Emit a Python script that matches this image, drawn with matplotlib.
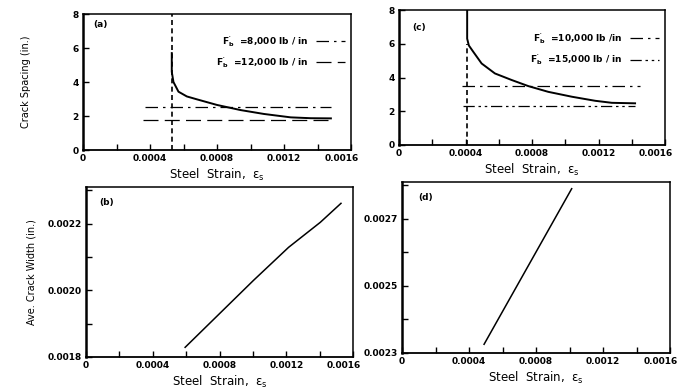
import numpy as np
import matplotlib
matplotlib.use('Agg')
from matplotlib import pyplot as plt
from matplotlib import transforms
from matplotlib.ticker import MultipleLocator, FixedLocator

plt.rcParams['font.family'] = ['DejaVu Sans']
plt.rcParams['font.weight'] = 'bold'
plt.rcParams['mathtext.default'] = 'regular'

# (a) crack spacing vs steel strain, first case
a_strain = [0.00053, 0.00053, 0.00054, 0.00057, 0.00062, 0.00068, 0.0008,
            0.00094, 0.00108, 0.00124, 0.00136, 0.00148]
a_spacing = [5.7, 4.6, 4.0, 3.43, 3.15, 2.98, 2.65, 2.35, 2.12, 1.92, 1.87, 1.86]
a_crack_strain = 0.00053
a_bond_labels = ["$F_b'$  =8,000 lb / in", "$F_b'$  =12,000 lb / in"]
a_bond_spacing = [2.51, 1.76]
a_bond_xmin = [0.00037, 0.00036]
a_bond_xmax = [0.00148, 0.00148]

# (c) crack spacing vs steel strain, second case
c_strain = [0.00041, 0.00041, 0.00042, 0.000447, 0.000497, 0.000577, 0.000678,
            0.000778, 0.000898, 0.00104, 0.00118, 0.00128, 0.00142]
c_spacing = [8.0, 6.3, 5.9, 5.52, 4.83, 4.24, 3.85, 3.49, 3.15, 2.86, 2.62, 2.5, 2.47]
c_crack_strain = 0.00041
c_crack_top = 6.0
c_bond_labels = ["$F_b'$  =10,000 lb /in", "$F_b'$  =15,000 lb / in"]
c_bond_spacing = [3.51, 2.31]
c_bond_xmin = [0.000377, 0.000387]
c_bond_xmax = [0.00145, 0.00142]

# (b) and (d) average crack width
b_strain = [0.000594, 0.001004, 0.001214, 0.001404, 0.001528]
b_width = [0.001829, 0.00203, 0.002129, 0.002204, 0.002261]
d_strain = [0.00049, 0.001013]
d_width = [0.002326, 0.00279]

x_ticks = [0, 0.0004, 0.0008, 0.0012, 0.0016]
x_ticklabels = ['0', '0.0004', '0.0008', '0.0012', '0.0016']
sp_ticks = [0, 2, 4, 6, 8]
b_ticks = [0.0018, 0.0020, 0.0022]
d_ticks = [0.0023, 0.0025, 0.0027]

W, H = 681, 390
fig = plt.figure(figsize=(W / 100, H / 100), dpi=100)

def box(l, t, r, b):
	return fig.add_axes([l / W, 1 - b / H, (r - l) / W, (b - t) / H])

ax_a = box(83, 14, 351, 150)
ax_c = box(399, 10, 665, 145)
ax_b = box(86, 187, 353, 357)
ax_d = box(402, 182, 670, 353)

# last x label sits a little left of its tick, like the scan
shift = transforms.ScaledTranslation(-9 / 100, 0, fig.dpi_scale_trans)

for ax in [ax_a, ax_b, ax_c, ax_d]:
	ax.set_xlim(0, 0.0016)
	ax.xaxis.set_major_locator(FixedLocator(x_ticks))
	ax.set_xticklabels(x_ticklabels)
	ax.xaxis.set_minor_locator(MultipleLocator(0.0002))
	ax.tick_params(which='both', direction='in', labelsize=6.5, length=4, width=1, pad=3)
	ax.get_xticklabels()[-1].set_transform(ax.get_xticklabels()[-1].get_transform() + shift)
	for s in ax.spines.values():
		s.set_linewidth(1.1)
	ax.spines['left'].set_linewidth(1.8)
	ax.spines['bottom'].set_linewidth(1.3)
	ax.set_xlabel(r'Steel  Strain,  $\epsilon_s$', fontsize=8.5, labelpad=3)

a_styles = [(0, (10, 4, 2, 4)), (0, (12, 5))]
c_styles = [(0, (10, 4, 2, 4)), (0, (9, 3, 2, 3, 2, 3))]

# panel (a)
ax_a.set_ylim(0, 8)
ax_a.set_yticks(sp_ticks)
ax_a.vlines(a_crack_strain, 0, 8, colors='k', linestyles=(0, (3, 2)), lw=1.2)
ax_a.plot(a_strain, a_spacing, color='k', lw=1.4)
for i in range(2):
	ax_a.plot([a_bond_xmin[i], a_bond_xmax[i]], [a_bond_spacing[i]] * 2, color='k',
	          ls=a_styles[i], lw=0.9, label=a_bond_labels[i])
ax_a.legend(loc='upper right', bbox_to_anchor=(1.0, 0.9),
            frameon=False, fontsize=6.5, markerfirst=False, handlelength=3.2,
            borderaxespad=0.3, labelspacing=0.7)
ax_a.text(0.04, 0.92, '(a)', transform=ax_a.transAxes, fontsize=6.5, va='center')
ax_a.set_ylabel('Crack Spacing (in.)', fontsize=7, labelpad=30)

# panel (c)
ax_c.set_ylim(0, 8)
ax_c.set_yticks(sp_ticks)
ax_c.vlines(c_crack_strain, 0, c_crack_top, colors='k', linestyles=(0, (3, 2)), lw=1.2)
ax_c.plot(c_strain, c_spacing, color='k', lw=1.4)
for i in range(2):
	ax_c.plot([c_bond_xmin[i], c_bond_xmax[i]], [c_bond_spacing[i]] * 2, color='k',
	          ls=c_styles[i], lw=0.9, label=c_bond_labels[i])
ax_c.legend(loc='upper right', bbox_to_anchor=(1.0, 0.89),
            frameon=False, fontsize=6.5, markerfirst=False, handlelength=3.2,
            borderaxespad=0.3, labelspacing=0.7)
ax_c.text(0.05, 0.87, '(c)', transform=ax_c.transAxes, fontsize=6.5, va='center')

# panel (b)
ax_b.set_ylim(0.0018, 0.00231)
ax_b.yaxis.set_major_locator(FixedLocator(b_ticks))
ax_b.set_yticklabels(['%.4f' % v for v in b_ticks])
ax_b.yaxis.set_minor_locator(MultipleLocator(0.0001))
ax_b.plot(b_strain, b_width, color='k', lw=1.1)
ax_b.text(0.05, 0.91, '(b)', transform=ax_b.transAxes, fontsize=6.5, va='center')
ax_b.set_ylabel('Ave. Crack Width (in.)', fontsize=7, labelpad=8)

# panel (d)
ax_d.set_ylim(0.0023, 0.00281)
ax_d.yaxis.set_major_locator(FixedLocator(d_ticks))
ax_d.set_yticklabels(['%.4f' % v for v in d_ticks])
ax_d.yaxis.set_minor_locator(MultipleLocator(0.0001))
ax_d.plot(d_strain, d_width, color='k', lw=1.1)
ax_d.text(0.06, 0.91, '(d)', transform=ax_d.transAxes, fontsize=6.5, va='center')

fig.savefig('out.png', dpi=100)
